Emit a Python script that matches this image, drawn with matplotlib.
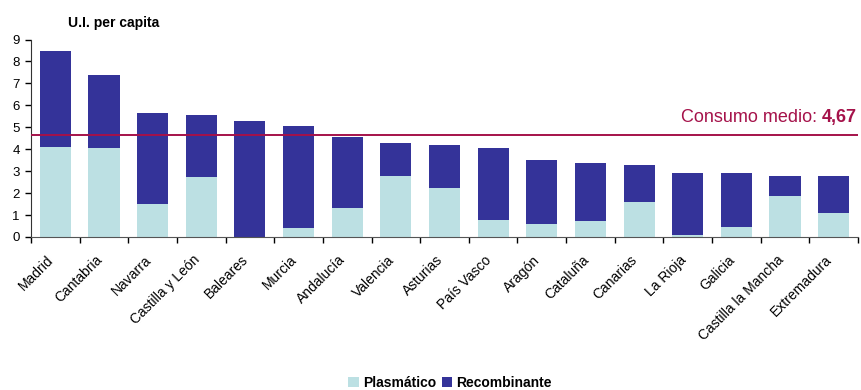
import matplotlib
matplotlib.use("Agg")
import matplotlib.pyplot as plt
import numpy as np

plt.rcParams['font.family'] = ['Liberation Sans', 'DejaVu Sans']

regions = ["Madrid", "Cantabria", "Navarra", "Castilla y León", "Baleares", "Murcia",
           "Andalucía", "Valencia", "Asturias", "País Vasco", "Aragón", "Cataluña",
           "Canarias", "La Rioja", "Galicia", "Castilla la Mancha", "Extremadura"]
totals = [8.47, 7.37, 5.63, 5.55, 5.28, 5.05, 4.55, 4.27, 4.18, 4.04, 3.50, 3.36,
          3.27, 2.90, 2.90, 2.77, 2.77]
plasmatico = [4.09, 4.04, 1.49, 2.72, 0.0, 0.40, 1.31, 2.77, 2.22, 0.76, 0.58, 0.72,
              1.58, 0.08, 0.44, 1.86, 1.08]
recombinante = [t - p for t, p in zip(totals, plasmatico)]
consumo_medio = 4.67
yticks = list(range(0, 10))

c_plas = "#BCE0E3"
c_rec = "#343399"
c_mean = "#A5124A"

fig = plt.figure(figsize=(8.62, 3.90), dpi=100)
ax = fig.add_axes([31 / 862, 1 - 237 / 390, 827 / 862, 197.5 / 390])

x = np.arange(len(regions))
ax.bar(x, plasmatico, width=0.64, color=c_plas, label="Plasmático", zorder=2)
ax.bar(x, recombinante, width=0.64, bottom=plasmatico, color=c_rec,
       label="Recombinante", zorder=2)

# average consumption line with its label
ax.axhline(consumo_medio, color=c_mean, lw=1.4, zorder=3)
val = ax.text(len(regions) - 0.52, consumo_medio + 0.55, "4,67", color=c_mean,
              fontsize=13, fontweight='bold', ha='right', va='baseline', zorder=4)
ax.annotate("Consumo medio: ", xy=(0, 0), xycoords=val, ha='right', va='bottom',
            color=c_mean, fontsize=13, zorder=4)

ax.set_xlim(-0.5, len(regions) - 0.5)
ax.set_ylim(0, 9)
ax.set_yticks(yticks)
ax.set_yticklabels([str(v) for v in yticks], fontsize=9.5)
ax.set_xticks(np.arange(len(regions) + 1) - 0.5)
ax.set_xticklabels([])
ax.tick_params(axis='x', direction='out', length=4, width=1)
ax.tick_params(axis='y', direction='out', length=4, width=1, pad=4)
for i, name in enumerate(regions):
    ax.text(i - 0.18, -0.72, name, rotation=45, ha='right', va='top',
            rotation_mode='anchor', fontsize=10)

for side in ['top', 'right']:
    ax.spines[side].set_visible(False)
ax.spines['left'].set_color('#333333')
ax.spines['bottom'].set_color('#555555')

fig.text(68 / 862, 1 - 23 / 390, "U.I. per capita", fontsize=10, fontweight='bold',
         ha='left', va='center')

fig.legend(loc='center', bbox_to_anchor=(450 / 862, 1 - 383 / 390), ncol=2, frameon=False,
           handlelength=0.75, handleheight=0.75, handletextpad=0.3,
           columnspacing=0.4, prop={'weight': 'bold', 'size': 10})

fig.savefig("out.png", dpi=100)
